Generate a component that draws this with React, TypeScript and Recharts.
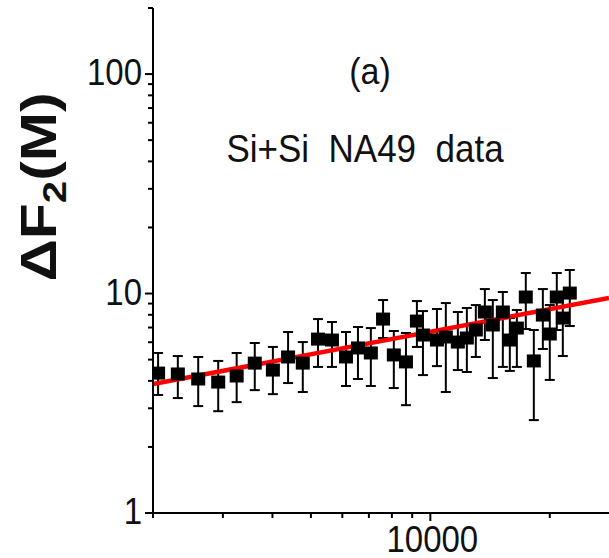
import React from "react";
import { ComposedChart, Scatter, Line, XAxis, YAxis, ErrorBar } from "recharts";

// measured points (M, ΔF2) with error bar ends
const pointM = [
  2060, 2310, 2600, 2920, 3250, 3610, 4010, 4380, 4770, 5210, 5650, 6130,
  6570, 7080, 7600, 8090, 8680, 9250, 9580, 10390, 10940, 11730, 12360, 13020,
  13720, 14370, 15230, 15860, 16520, 17400, 18230, 19210, 20000, 20830, 21570, 22460,
];
const pointF2 = [
  4.34, 4.3, 4.08, 3.95, 4.21, 4.82, 4.48, 5.14, 4.82, 6.2, 6.14, 5.14,
  5.65, 5.36, 7.65, 5.25, 4.88, 7.49, 6.47, 6.14, 6.34, 6.01, 6.27, 6.82,
  8.24, 7.19, 8.24, 6.14, 6.96, 9.64, 4.93, 7.98, 6.54, 9.64, 7.73, 10.05,
];
const errLow = [
  3.45, 3.34, 3.07, 2.91, 3.2, 3.63, 3.48, 3.91, 3.56, 4.63, 4.63, 3.79,
  4.08, 3.79, 6.27, 3.71, 3.1, 5.71, 4.25, 4.67, 3.56, 4.48, 4.39, 5.14,
  6.14, 4.12, 4.63, 4.44, 4.63, 6.89, 2.65, 5.59, 4.04, 6.82, 5.19, 7.11,
];
const errHigh = [
  5.36, 5.19, 5.14, 4.93, 5.36, 5.95, 5.71, 6.68, 6.01, 7.65, 7.42, 6.68,
  7.04, 6.96, 9.34, 6.75, 6.61, 9.24, 8.32, 8.5, 9.05, 8.24, 8.59, 8.86,
  10.48, 9.34, 10.16, 7.73, 8.41, 12.4, 6.82, 10.48, 8.86, 12.4, 9.74, 12.8,
];

// power-law fit (straight on log-log)
const fitM = [2000, 28200];
const fitF2 = [3.87, 9.54];

const xTicks = [2000, 3000, 4000, 5000, 6000, 7000, 8000, 9000, 10000, 20000];
const xMajor = [10000];
const yTicks = [
  1, 2, 3, 4, 5, 6, 7, 8, 9, 10, 20, 30, 40, 50, 60, 70, 80, 90, 100, 200,
];
const yMajor = [1, 10, 100];

const FONT = "'Liberation Sans', Arial, Helvetica, sans-serif";

const points = pointM.map((m, i) => ({
  x: m,
  y: pointF2[i],
  err: [pointF2[i] - errLow[i], errHigh[i] - pointF2[i]],
}));
const fit = fitM.map((m, i) => ({ x: m, y: fitF2[i] }));

function Square(props: any) {
  const { cx, cy } = props;
  if (cx == null || cy == null) return null;
  return <rect x={cx - 7} y={cy - 6.5} width={14} height={13} fill="#000" />;
}

// text slightly stretched vertically, like the source figure
function Label(props: { x: number; y: number; anchor: string; children: React.ReactNode; size?: number }) {
  return (
    <text
      transform={`translate(${props.x},${props.y}) scale(1,1.1)`}
      textAnchor={props.anchor}
      fontSize={props.size ?? 33}
      fontFamily={FONT}
      fill="#111"
      style={{ whiteSpace: "pre" }}
    >
      {props.children}
    </text>
  );
}

function YTick(props: any) {
  const { x, y, payload } = props;
  const major = yMajor.includes(payload.value);
  return (
    <g>
      <line x1={x - (major ? 8 : 5)} x2={x} y1={y} y2={y} stroke="#000" strokeWidth={2} />
      {major && (
        <Label x={x - 11} y={y + 11} anchor="end">
          {payload.value}
        </Label>
      )}
    </g>
  );
}

function XTick(props: any) {
  const { x, y, payload } = props;
  const major = xMajor.includes(payload.value);
  return (
    <g>
      <line x1={x} x2={x} y1={y} y2={y + (major ? 8 : 5)} stroke="#000" strokeWidth={2} />
      {major && (
        <Label x={x + 2} y={y + 39} anchor="middle">
          {payload.value}
        </Label>
      )}
    </g>
  );
}

export default function App() {
  return (
    <div style={{ position: "absolute", left: 0, top: 0, width: 609, height: 558, background: "#fff", overflow: "hidden" }}>
      <ComposedChart width={609} height={558} margin={{ top: 8, right: 0, bottom: 0, left: 0 }}>
        <XAxis
          type="number"
          dataKey="x"
          scale="log"
          domain={[2000, 28200]}
          allowDataOverflow
          ticks={xTicks}
          interval={0}
          tick={<XTick />}
          tickLine={false}
          tickSize={0}
          tickMargin={0}
          height={45}
          axisLine={{ stroke: "#000", strokeWidth: 2 }}
        />
        <YAxis
          type="number"
          dataKey="y"
          scale="log"
          domain={[1, 200]}
          allowDataOverflow
          ticks={yTicks}
          interval={0}
          tick={<YTick />}
          tickLine={false}
          tickSize={0}
          tickMargin={0}
          width={153}
          axisLine={{ stroke: "#000", strokeWidth: 2 }}
        />
        <Scatter data={points} dataKey="y" fill="#000" shape={<Square />} isAnimationActive={false}>
          <ErrorBar dataKey="err" direction="y" width={5} stroke="#000" strokeWidth={2} isAnimationActive={false} />
        </Scatter>
        <Line
          data={fit}
          dataKey="y"
          type="linear"
          stroke="#ff0000"
          strokeWidth={4.5}
          dot={false}
          activeDot={false}
          isAnimationActive={false}
        />
      </ComposedChart>
      <svg width={609} height={558} style={{ position: "absolute", left: 0, top: 0, pointerEvents: "none" }}>
        <text
          transform="translate(56,187) rotate(-90) scale(1.18,1)"
          textAnchor="middle"
          fontSize={50}
          fontWeight="bold"
          fontFamily={FONT}
          fill="#111"
        >
          ΔF
          <tspan fontSize={34} dy={10}>2</tspan>
          <tspan dy={-10}>(M)</tspan>
        </text>
        <Label x={370} y={84} anchor="middle" size={34}>
          (a)
        </Label>
        <Label x={365} y={162} anchor="middle" size={35}>
          {"Si+Si  NA49  data"}
        </Label>
      </svg>
    </div>
  );
}
